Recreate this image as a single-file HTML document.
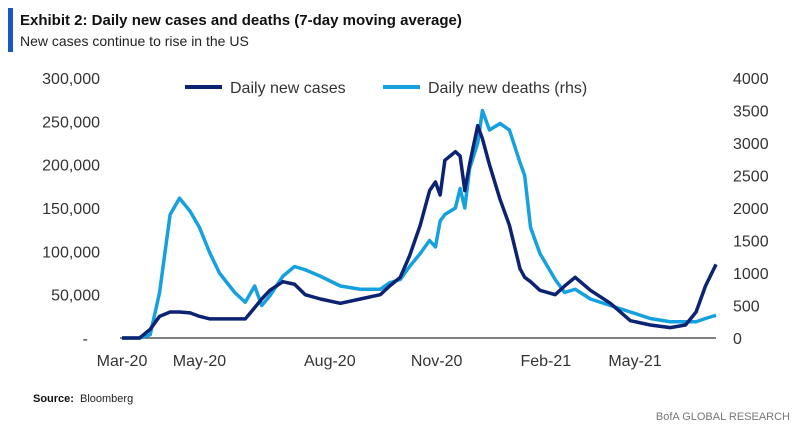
<!DOCTYPE html>
<html><head><meta charset="utf-8"><style>
body{margin:0;background:#fff;width:801px;height:433px;overflow:hidden;font-family:"Liberation Sans",sans-serif}
</style></head><body>
<svg width="801" height="433">
<rect x="8" y="8" width="5" height="44" fill="#1a56c4"/>
<text x="20" y="25" font-size="15" font-weight="bold" fill="#111">Exhibit 2: Daily new cases and deaths (7-day moving average)</text>
<text x="20" y="46" font-size="14" fill="#222">New cases continue to rise in the US</text>
<g id="axes"></g>
<g id="lines"></g>
<line x1="185" y1="87" x2="222" y2="87" stroke="#0c2272" stroke-width="4"/>
<text x="230" y="93" font-size="16" fill="#333">Daily new cases</text>
<line x1="383" y1="87" x2="420" y2="87" stroke="#15a0e0" stroke-width="4"/>
<text x="428" y="93" font-size="16" fill="#333">Daily new deaths (rhs)</text>
<text x="33" y="402" font-size="11" font-weight="bold" fill="#111">Source:</text>
<text x="80" y="402" font-size="11" fill="#222">Bloomberg</text>
<text x="790" y="420" font-size="11" fill="#777" text-anchor="end">BofA GLOBAL RESEARCH</text>
</svg>
<script>
const days=[0,15,24,32,41,49,58,66,75,83,96,105,113,119,126,137,147,156,169,186,203,220,228,237,245,254,262,267,271,275,284,288,292,296,303,307,313,322,330,339,343,348,356,369,377,386,399,416,433,450,467,480,489,497,506];
const cases=[0,0,10,25,30,30,29,25,22,22,22,22,35,45,55,65,62,50,45,40,45,50,60,70,95,130,170,180,165,205,215,210,170,200,245,230,200,160,130,80,70,65,55,50,60,70,55,40,20,15,12,15,30,60,85];
const deaths=[0,0,50,700,1900,2150,1950,1700,1300,1000,700,550,800,500,650,950,1100,1050,950,800,750,750,850,900,1100,1300,1500,1400,1800,1900,2000,2300,2000,2600,3000,3500,3200,3300,3200,2700,2500,1700,1300,900,700,750,600,500,400,300,250,250,250,300,350];
const leftTicks=["-","50,000","100,000","150,000","200,000","250,000","300,000"];
const rightTicks=["0","500","1000","1500","2000","2500","3000","3500","4000"];
const xLabels=["Mar-20","May-20","Aug-20","Nov-20","Feb-21","May-21"];
const xLabelDays=[0,66,177,268,361,437];
const NS="http://www.w3.org/2000/svg";
const X=d=>122+d*1.174, YL=v=>338-v/300*260, YR=v=>338-v/4000*260;
const ax=document.getElementById('axes'), ln=document.getElementById('lines');
function mk(tag,attrs,parent){const e=document.createElementNS(NS,tag);for(const k in attrs)e.setAttribute(k,attrs[k]);parent.appendChild(e);return e;}
const base=mk('line',{x1:120,x2:716,y1:338,y2:338,stroke:'#555','stroke-width':1.5},ax);


leftTicks.forEach((t,i)=>{const e=mk('text',{x:i?100:88,y:338-i*43.33+6,'font-size':16,fill:'#333','text-anchor':'end'},ax);e.textContent=t;

});
rightTicks.forEach((t,i)=>{const e=mk('text',{x:733,y:338-i*32.5+6,'font-size':16,fill:'#333'},ax);e.textContent=t;

});
xLabels.forEach((t,i)=>{const e=mk('text',{x:X(xLabelDays[i]),y:366,'font-size':16,fill:'#333','text-anchor':'middle'},ax);e.textContent=t;

});
const dp=deaths.map((v,i)=>X(days[i])+','+YR(v)).join(' ');
const l1=mk('polyline',{points:dp,fill:'none',stroke:'#15a0e0','stroke-width':3.5,'stroke-linejoin':'round'},ln);


const cp=cases.map((v,i)=>X(days[i])+','+YL(v*1000/1000)).join(' ');
const l2=mk('polyline',{points:cp,fill:'none',stroke:'#0c2272','stroke-width':3.5,'stroke-linejoin':'round'},ln);


</script>
</body></html>
